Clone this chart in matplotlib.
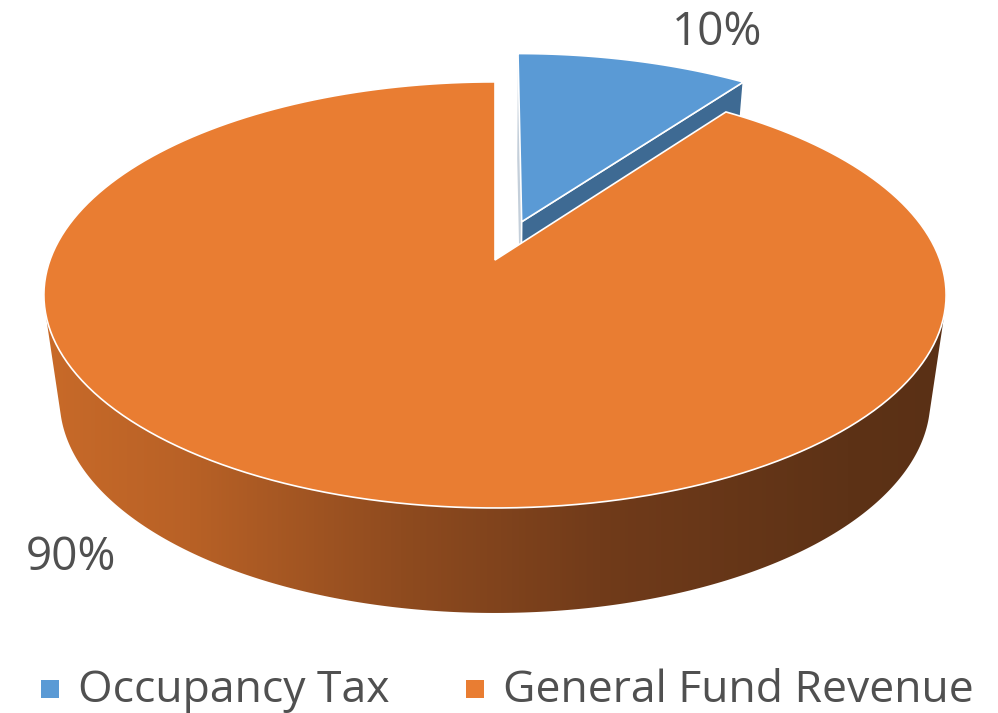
import numpy as np
import matplotlib
matplotlib.use("Agg")
import matplotlib.pyplot as plt
from matplotlib.patches import Polygon, Rectangle
from matplotlib.colors import LinearSegmentedColormap

# ---- data -------------------------------------------------------------
categories = ["Occupancy Tax", "General Fund Revenue"]
shares = [10, 90]
value_labels = ["10%", "90%"]
explode = [0.2, 0.0]

# ---- style --------------------------------------------------------------
top_colors = ["#5A9AD5", "#E97D32"]
cut_face_color = "#3E6A93"
edge_face_color = "#C4CFDA"
text_color = "#505050"
plt.rcParams["font.family"] = ["Open Sans", "DejaVu Sans"]

# ---- projection of the tilted disc (pixel space) ------------------------
CX, CY = 495.0, 260.0      # projected centre of the top face
AX, BY, K = 445.0, 207.3, 0.164
DEPTH, SHRINK = 105.0, 0.965


def top_pt(X, Z):
    w = 1.0 + K * Z
    return CX + AX * X / w, CY - BY * Z / w


def bottom_pt(X, Z):
    u, v = top_pt(X, Z)
    return CX + SHRINK * (u - CX), v + DEPTH


def convex_hull(points):
    pts = sorted(set(map(tuple, np.round(points, 3))))
    def cross(o, a, b):
        return (a[0] - o[0]) * (b[1] - o[1]) - (a[1] - o[1]) * (b[0] - o[0])
    lower, upper = [], []
    for p in pts:
        while len(lower) >= 2 and cross(lower[-2], lower[-1], p) <= 0:
            lower.pop()
        lower.append(p)
    for p in reversed(pts):
        while len(upper) >= 2 and cross(upper[-2], upper[-1], p) <= 0:
            upper.pop()
        upper.append(p)
    return np.array(lower[:-1] + upper[:-1])


W, H = 998, 713
fig = plt.figure(figsize=(W / 100, H / 100), dpi=100)
ax = fig.add_axes([0, 0, 1, 1])
ax.set_xlim(0, W)
ax.set_ylim(H, 0)
ax.axis("off")

fr = np.asarray(shares, float) / np.sum(shares)
starts = np.concatenate([[0.0], np.cumsum(fr)[:-1]]) * 360.0
ends = starts + fr * 360.0

slices = []
for i in range(len(shares)):
    mid = np.radians((starts[i] + ends[i]) / 2)
    ox, oz = explode[i] * np.sin(mid), explode[i] * np.cos(mid)
    th = np.radians(np.linspace(starts[i], ends[i], 200))
    X = ox + np.sin(th)
    Z = oz + np.cos(th)
    slices.append((ox, oz, th, X, Z))

# ---- first slice (exploded, behind) -------------------------------------
ox, oz, th, X, Z = slices[0]
# cut face at the start angle (seen almost edge-on)
c_top = top_pt(ox, oz)
c_bot = bottom_pt(ox, oz)
s_top = top_pt(X[0], Z[0])
s_bot = bottom_pt(X[0], Z[0])
ax.add_patch(Polygon([c_top, s_top, s_bot, c_bot], closed=True,
                     facecolor=edge_face_color, edgecolor="none", zorder=1))
# cut face at the end angle
e_top = top_pt(X[-1], Z[-1])
e_bot = bottom_pt(X[-1], Z[-1])
ax.add_patch(Polygon([c_top, e_top, e_bot, c_bot], closed=True,
                     facecolor=cut_face_color, edgecolor="white",
                     linewidth=1.2, zorder=2))
u, v = top_pt(X, Z)
ax.add_patch(Polygon(np.column_stack([np.r_[c_top[0], u], np.r_[c_top[1], v]]),
                     closed=True, facecolor=top_colors[0], edgecolor="white",
                     linewidth=1.2, zorder=3))

# ---- second slice: curved outer wall with shading, then top -------------
ox, oz, th, X, Z = slices[1]
front = np.radians(np.linspace(90, 270, 300))
fx, fz = ox + np.sin(front), oz + np.cos(front)
tu, tv = top_pt(fx, fz)
bu, bv = bottom_pt(fx, fz)
hull = convex_hull(np.vstack([np.column_stack([tu, tv]),
                              np.column_stack([bu, bv])]))
wall = Polygon(hull, closed=True, facecolor="none", edgecolor="none", zorder=4)
ax.add_patch(wall)

stops_x = [45, 190, 400, 600, 850, 950]
stops_c = [(200, 106, 41), (184, 97, 38), (143, 75, 31), (113, 59, 26),
           (93, 50, 22), (90, 48, 21)]
x0, x1 = stops_x[0], stops_x[-1]
cmap = LinearSegmentedColormap.from_list(
    "wall", [((sx - x0) / (x1 - x0), tuple(c / 255 for c in col))
             for sx, col in zip(stops_x, stops_c)])
grad = np.linspace(0, 1, 512)[None, :]
img = ax.imshow(grad, cmap=cmap, extent=(x0, x1, hull[:, 1].max() + 2,
                                         hull[:, 1].min() - 2),
                aspect="auto", interpolation="bilinear", zorder=4)
img.set_clip_path(wall)
ax.set_xlim(0, W)
ax.set_ylim(H, 0)

c_top = top_pt(ox, oz)
u, v = top_pt(X, Z)
ax.add_patch(Polygon(np.column_stack([np.r_[c_top[0], u], np.r_[c_top[1], v]]),
                     closed=True, facecolor=top_colors[1], edgecolor="white",
                     linewidth=1.2, zorder=5))

# ---- value labels ---------------------------------------------------------
ax.text(717, 45, value_labels[0], fontsize=33, color=text_color,
        ha="center", va="baseline", zorder=6)
ax.text(71, 570, value_labels[1], fontsize=33, color=text_color,
        ha="center", va="baseline", zorder=6)

# ---- legend ---------------------------------------------------------------
legend_x = [(41, 78), (466, 503)]
for (sq_x, tx_x), name, col in zip(legend_x, categories, top_colors):
    ax.add_patch(Rectangle((sq_x, 680), 18, 18, facecolor=col,
                           edgecolor="none", zorder=6))
    ax.text(tx_x, 702, name, fontsize=32, color=text_color,
            ha="left", va="baseline", zorder=6)

fig.savefig("out.png", dpi=100)
